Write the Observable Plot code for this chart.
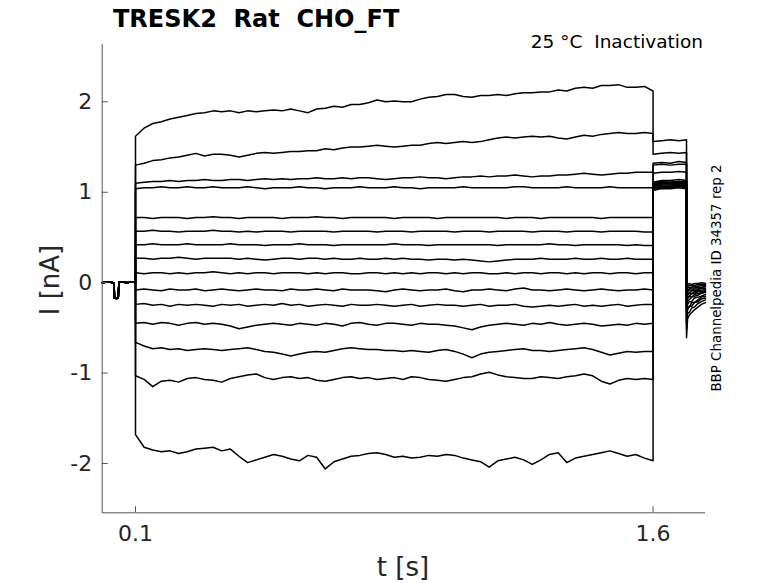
<!DOCTYPE html>
<html>
<head>
<meta charset="utf-8">
<script src="https://cdn.jsdelivr.net/npm/d3@7"></script>
<script src="https://cdn.jsdelivr.net/npm/@observablehq/plot@0.6"></script>
<style>
  html, body { margin: 0; padding: 0; background: #fff; }
  #chart { width: 778px; height: 583px; }
  text { white-space: pre; }
</style>
</head>
<body>
<div id="chart"></div>
<script>
// ---- axis ticks ----
const xTicks = [0.1, 1.6];
const yTicks = [-2, -1, 0, 1, 2];
const xDomain = [0.0035, 1.752];
const yDomain = [-2.545, 2.634];

// ---- holding segment (shared by every sweep) ----
const tPre = [0.0035, 0.02, 0.035, 0.038, 0.039, 0.045, 0.050, 0.052, 0.06, 0.075, 0.09, 0.1];
const iPre = [0.0, 0.01, 0.0, 0.0, -0.17, -0.175, -0.17, 0.01, 0.01, 0.0, 0.01, 0.0];

// ---- conditioning step (0.1 .. 1.6 s) ----
const tStep = [0.1,0.125,0.15,0.175,0.2,0.225,0.25,0.275,0.3,0.325,
  0.35,0.375,0.4,0.425,0.45,0.475,0.5,0.525,0.55,0.575,
  0.6,0.625,0.65,0.675,0.7,0.725,0.75,0.775,0.8,0.825,
  0.85,0.875,0.9,0.925,0.95,0.975,1.0,1.025,1.05,1.075,
  1.1,1.125,1.15,1.175,1.2,1.225,1.25,1.275,1.3,1.325,
  1.35,1.375,1.4,1.425,1.45,1.475,1.5,1.525,1.55,1.575,
  1.6];

const step1 = [1.62,1.71,1.76,1.78,1.81,1.83,1.85,1.87,1.88,1.90,
  1.89,1.90,1.88,1.90,1.89,1.90,1.91,1.90,1.92,1.90,
  1.88,1.92,1.93,1.95,1.94,1.97,1.97,1.99,2.02,2.00,
  2.01,2.00,2.00,2.03,2.05,2.06,2.08,2.08,2.06,2.05,
  2.07,2.07,2.08,2.07,2.09,2.10,2.10,2.11,2.11,2.13,
  2.12,2.15,2.16,2.15,2.18,2.18,2.19,2.16,2.16,2.17,
  2.12];
const step2 = [1.30,1.32,1.35,1.36,1.38,1.39,1.41,1.43,1.40,1.42,
  1.42,1.41,1.39,1.41,1.43,1.44,1.43,1.44,1.45,1.45,
  1.46,1.46,1.48,1.47,1.49,1.50,1.50,1.51,1.52,1.51,
  1.50,1.51,1.52,1.52,1.54,1.55,1.54,1.55,1.56,1.55,
  1.56,1.58,1.60,1.61,1.60,1.61,1.62,1.61,1.62,1.60,
  1.59,1.61,1.63,1.62,1.64,1.65,1.66,1.65,1.65,1.66,
  1.65];
const step3 = [1.10,1.11,1.12,1.12,1.13,1.12,1.13,1.13,1.14,1.13,
  1.13,1.14,1.14,1.13,1.14,1.15,1.14,1.15,1.14,1.15,
  1.15,1.16,1.15,1.15,1.16,1.15,1.16,1.16,1.15,1.14,
  1.15,1.16,1.16,1.17,1.16,1.16,1.15,1.16,1.17,1.17,
  1.18,1.17,1.18,1.18,1.19,1.18,1.17,1.18,1.18,1.19,
  1.19,1.20,1.21,1.20,1.19,1.20,1.21,1.21,1.22,1.22,
  1.22];
const step4 = [1.04,1.05,1.05,1.06,1.05,1.05,1.06,1.05,1.05,1.06,
  1.05,1.05,1.05,1.06,1.05,1.04,1.05,1.05,1.05,1.06,
  1.05,1.05,1.04,1.05,1.05,1.05,1.06,1.05,1.05,1.05,
  1.06,1.05,1.05,1.04,1.05,1.05,1.05,1.05,1.06,1.05,
  1.05,1.05,1.05,1.05,1.06,1.06,1.05,1.05,1.05,1.05,
  1.06,1.05,1.05,1.05,1.05,1.06,1.05,1.05,1.05,1.05,
  1.05];
const step5 = [0.72,0.72,0.71,0.72,0.72,0.72,0.71,0.72,0.72,0.73,
  0.72,0.72,0.71,0.72,0.72,0.72,0.72,0.71,0.72,0.72,
  0.72,0.73,0.72,0.72,0.71,0.72,0.72,0.72,0.72,0.72,
  0.71,0.72,0.72,0.72,0.72,0.71,0.72,0.72,0.72,0.72,
  0.72,0.72,0.72,0.71,0.72,0.72,0.72,0.71,0.72,0.72,
  0.72,0.72,0.72,0.72,0.71,0.72,0.72,0.72,0.72,0.72,
  0.72];
const step6 = [0.57,0.57,0.58,0.57,0.57,0.56,0.57,0.57,0.57,0.58,
  0.57,0.57,0.56,0.57,0.56,0.57,0.57,0.57,0.56,0.57,
  0.57,0.57,0.57,0.56,0.57,0.57,0.57,0.57,0.56,0.57,
  0.57,0.57,0.56,0.57,0.57,0.57,0.57,0.56,0.57,0.57,
  0.57,0.56,0.57,0.57,0.57,0.57,0.56,0.57,0.57,0.57,
  0.56,0.57,0.57,0.57,0.56,0.57,0.57,0.57,0.57,0.56,
  0.56];
const step7 = [0.42,0.42,0.43,0.42,0.42,0.42,0.43,0.42,0.42,0.42,
  0.42,0.43,0.42,0.42,0.42,0.41,0.42,0.42,0.42,0.43,
  0.42,0.42,0.42,0.41,0.42,0.42,0.42,0.42,0.42,0.42,
  0.43,0.42,0.42,0.42,0.41,0.42,0.42,0.42,0.42,0.42,
  0.42,0.42,0.41,0.42,0.42,0.42,0.42,0.42,0.43,0.42,
  0.42,0.41,0.42,0.42,0.42,0.42,0.42,0.41,0.42,0.41,
  0.41];
const step8 = [0.27,0.27,0.26,0.27,0.27,0.28,0.27,0.26,0.27,0.27,
  0.27,0.27,0.26,0.27,0.26,0.25,0.26,0.27,0.27,0.26,
  0.27,0.27,0.26,0.27,0.26,0.26,0.27,0.26,0.26,0.27,
  0.26,0.27,0.26,0.26,0.25,0.26,0.26,0.25,0.26,0.25,
  0.24,0.23,0.24,0.25,0.26,0.26,0.26,0.27,0.26,0.26,
  0.26,0.27,0.26,0.26,0.27,0.26,0.26,0.27,0.26,0.26,
  0.26];
const step9 = [0.11,0.10,0.11,0.11,0.10,0.11,0.10,0.11,0.11,0.12,
  0.11,0.10,0.11,0.10,0.11,0.11,0.10,0.11,0.11,0.11,
  0.10,0.11,0.10,0.11,0.11,0.10,0.10,0.11,0.11,0.10,
  0.11,0.10,0.11,0.10,0.11,0.11,0.10,0.11,0.10,0.11,
  0.11,0.10,0.10,0.11,0.10,0.11,0.11,0.10,0.11,0.11,
  0.10,0.11,0.10,0.11,0.11,0.10,0.11,0.11,0.10,0.11,
  0.11];
const step10 = [-0.08,-0.07,-0.08,-0.09,-0.07,-0.08,-0.08,-0.07,-0.09,-0.08,
  -0.07,-0.08,-0.09,-0.08,-0.07,-0.08,-0.08,-0.09,-0.07,-0.08,
  -0.08,-0.07,-0.08,-0.09,-0.07,-0.08,-0.08,-0.08,-0.09,-0.10,
  -0.08,-0.07,-0.08,-0.09,-0.08,-0.08,-0.07,-0.09,-0.10,-0.08,
  -0.08,-0.07,-0.08,-0.09,-0.07,-0.06,-0.08,-0.08,-0.09,-0.08,
  -0.07,-0.08,-0.09,-0.08,-0.07,-0.08,-0.09,-0.08,-0.08,-0.07,
  -0.08];
const step11 = [-0.24,-0.23,-0.25,-0.24,-0.26,-0.24,-0.25,-0.24,-0.25,-0.26,
  -0.24,-0.25,-0.24,-0.26,-0.25,-0.24,-0.25,-0.23,-0.25,-0.24,
  -0.26,-0.25,-0.24,-0.25,-0.26,-0.24,-0.25,-0.25,-0.24,-0.25,
  -0.26,-0.25,-0.24,-0.26,-0.25,-0.24,-0.25,-0.25,-0.26,-0.25,
  -0.24,-0.26,-0.25,-0.25,-0.24,-0.26,-0.27,-0.26,-0.25,-0.26,
  -0.25,-0.24,-0.26,-0.25,-0.26,-0.25,-0.24,-0.26,-0.25,-0.24,
  -0.24];
const step12 = [-0.45,-0.44,-0.46,-0.44,-0.45,-0.47,-0.45,-0.44,-0.46,-0.45,
  -0.46,-0.48,-0.51,-0.49,-0.47,-0.46,-0.45,-0.46,-0.47,-0.45,
  -0.46,-0.47,-0.45,-0.46,-0.48,-0.45,-0.44,-0.46,-0.47,-0.45,
  -0.45,-0.46,-0.47,-0.45,-0.46,-0.46,-0.47,-0.48,-0.50,-0.52,
  -0.49,-0.47,-0.46,-0.45,-0.46,-0.47,-0.45,-0.46,-0.44,-0.46,
  -0.47,-0.46,-0.45,-0.46,-0.48,-0.47,-0.46,-0.47,-0.45,-0.46,
  -0.45];
const step13 = [-0.66,-0.70,-0.73,-0.72,-0.74,-0.73,-0.75,-0.74,-0.73,-0.74,
  -0.75,-0.74,-0.73,-0.72,-0.74,-0.76,-0.77,-0.79,-0.81,-0.79,
  -0.77,-0.76,-0.77,-0.75,-0.73,-0.72,-0.73,-0.74,-0.74,-0.75,
  -0.75,-0.76,-0.75,-0.76,-0.77,-0.75,-0.74,-0.76,-0.79,-0.83,
  -0.79,-0.77,-0.76,-0.75,-0.74,-0.73,-0.75,-0.75,-0.76,-0.75,
  -0.74,-0.73,-0.72,-0.74,-0.77,-0.80,-0.78,-0.76,-0.77,-0.76,
  -0.76];
const step14 = [-1.03,-1.07,-1.15,-1.09,-1.08,-1.10,-1.06,-1.05,-1.07,-1.08,
  -1.10,-1.06,-1.04,-1.02,-1.01,-1.05,-1.07,-1.05,-1.04,-1.06,
  -1.05,-1.08,-1.09,-1.07,-1.05,-1.04,-1.06,-1.05,-1.07,-1.06,
  -1.05,-1.07,-1.04,-1.05,-1.07,-1.08,-1.09,-1.07,-1.05,-1.04,
  -1.01,-0.99,-1.02,-1.04,-1.05,-1.06,-1.06,-1.04,-1.05,-1.06,
  -1.04,-1.03,-1.01,-1.03,-1.09,-1.12,-1.08,-1.06,-1.07,-1.06,
  -1.07];
const step15 = [-1.68,-1.82,-1.85,-1.87,-1.86,-1.89,-1.87,-1.84,-1.83,-1.82,
  -1.86,-1.84,-1.92,-1.99,-1.96,-1.93,-1.90,-1.92,-1.95,-1.97,
  -1.91,-1.93,-2.06,-1.98,-1.95,-1.92,-1.91,-1.89,-1.88,-1.90,
  -1.93,-1.92,-1.94,-1.93,-1.91,-1.92,-1.90,-1.91,-1.94,-1.96,
  -1.98,-2.04,-1.97,-1.95,-1.93,-1.96,-2.01,-1.96,-1.90,-1.88,
  -1.99,-1.94,-1.92,-1.90,-1.88,-1.86,-1.89,-1.92,-1.90,-1.94,
  -1.97];

// ---- test step (1.6 .. 1.697 s) ----
const tTest = [1.6, 1.625, 1.65, 1.675, 1.697];
const test1 = [1.56, 1.57, 1.58, 1.57, 1.58];
const test2 = [1.42, 1.43, 1.44, 1.43, 1.44];
const test3 = [1.32, 1.33, 1.32, 1.34, 1.33];
const test4 = [1.30, 1.31, 1.30, 1.31, 1.31];
const test5 = [1.21, 1.22, 1.22, 1.23, 1.22];
const test6 = [1.11, 1.13, 1.13, 1.14, 1.13];
const test7 = [1.10, 1.12, 1.11, 1.12, 1.12];
const test8 = [1.09, 1.11, 1.11, 1.12, 1.11];
const test9 = [1.08, 1.10, 1.10, 1.11, 1.10];
const test10 = [1.07, 1.09, 1.09, 1.10, 1.09];
const test11 = [1.06, 1.08, 1.08, 1.09, 1.08];
const test12 = [1.05, 1.07, 1.07, 1.08, 1.07];
const test13 = [1.04, 1.06, 1.06, 1.07, 1.06];
const test14 = [1.03, 1.05, 1.05, 1.06, 1.05];
const test15 = [1.02, 1.04, 1.04, 1.05, 1.04];

// ---- tail after return to holding (1.697 .. 1.752 s) ----
const tTail = [1.697, 1.700, 1.705, 1.712, 1.72, 1.73, 1.74, 1.752];
const tail1 = [-0.61, -0.40, -0.36, -0.33, -0.30, -0.27, -0.24, -0.22];
const tail2 = [-0.52, -0.34, -0.33, -0.28, -0.27, -0.23, -0.21, -0.19];
const tail3 = [-0.46, -0.30, -0.26, -0.26, -0.22, -0.21, -0.18, -0.17];
const tail4 = [-0.43, -0.28, -0.27, -0.22, -0.22, -0.19, -0.16, -0.15];
const tail5 = [-0.37, -0.24, -0.21, -0.21, -0.17, -0.16, -0.15, -0.13];
const tail6 = [-0.31, -0.20, -0.19, -0.16, -0.15, -0.14, -0.11, -0.11];
const tail7 = [-0.27, -0.18, -0.15, -0.16, -0.13, -0.12, -0.12, -0.10];
const tail8 = [-0.24, -0.16, -0.15, -0.12, -0.12, -0.10, -0.10, -0.09];
const tail9 = [-0.21, -0.14, -0.12, -0.12, -0.10, -0.09, -0.08, -0.08];
const tail10 = [-0.18, -0.12, -0.11, -0.09, -0.09, -0.08, -0.06, -0.07];
const tail11 = [-0.15, -0.10, -0.08, -0.08, -0.07, -0.07, -0.06, -0.06];
const tail12 = [-0.12, -0.08, -0.07, -0.06, -0.06, -0.05, -0.05, -0.04];
const tail13 = [-0.09, -0.06, -0.05, -0.05, -0.04, -0.04, -0.03, -0.03];
const tail14 = [-0.06, -0.04, -0.03, -0.03, -0.03, -0.02, -0.02, -0.02];
const tail15 = [-0.03, -0.02, -0.01, -0.02, -0.01, -0.01, 0.00, -0.01];

const stepSweeps = [step1, step2, step3, step4, step5, step6, step7, step8, step9, step10, step11, step12, step13, step14, step15];
const testSweeps = [test1, test2, test3, test4, test5, test6, test7, test8, test9, test10, test11, test12, test13, test14, test15];
const tailSweeps = [tail1, tail2, tail3, tail4, tail5, tail6, tail7, tail8, tail9, tail10, tail11, tail12, tail13, tail14, tail15];

// build a long table: one row per sample
const rows = [];
stepSweeps.forEach((stepVals, k) => {
  tPre.forEach((t, i) => rows.push({sweep: k, t, I: iPre[i]}));
  tStep.forEach((t, i) => rows.push({sweep: k, t, I: stepVals[i]}));
  tTest.forEach((t, i) => rows.push({sweep: k, t, I: testSweeps[k][i]}));
  tTail.forEach((t, i) => rows.push({sweep: k, t, I: tailSweeps[k][i]}));
});

const axisColor = "#262626";
const fmt = d => String(d);

const chart = Plot.plot({
  width: 778,
  height: 583,
  marginLeft: 101.7,
  marginRight: 73,
  marginTop: 44,
  marginBottom: 70.7,
  x: {domain: xDomain},
  y: {domain: yDomain},
  style: {fontFamily: "DejaVu Sans", color: axisColor, background: "white", overflow: "visible"},
  marks: [
    Plot.line(rows, {x: "t", y: "I", z: "sweep", stroke: "black", strokeWidth: 1.5, curve: "linear"}),
    Plot.ruleX([xDomain[0]], {stroke: "#555", strokeWidth: 1}),
    Plot.ruleY([yDomain[0]], {stroke: "#555", strokeWidth: 1}),
    Plot.axisX({ticks: xTicks, tickFormat: fmt, tickSize: -6, tickPadding: 19, fontSize: 22, label: null, stroke: "#555"}),
    Plot.axisY({ticks: yTicks, tickFormat: fmt, tickSize: -6, tickPadding: 16, fontSize: 22, label: null, stroke: "#555"})
  ]
});

document.getElementById("chart").appendChild(chart);

const svg = d3.select(chart);
svg.append("text")
  .attr("x", 113).attr("y", 27)
  .attr("text-anchor", "start")
  .attr("font-family", "DejaVu Sans").attr("font-weight", "bold").attr("font-size", 24)
  .attr("fill", "#000")
  .text("TRESK2  Rat  CHO_FT");
svg.append("text")
  .attr("x", 703).attr("y", 48)
  .attr("text-anchor", "end")
  .attr("font-family", "DejaVu Sans").attr("font-size", 18.5)
  .attr("fill", "#000")
  .text("25 °C  Inactivation");
svg.append("text")
  .attr("transform", "translate(721,278) rotate(-90)")
  .attr("text-anchor", "middle")
  .attr("font-family", "DejaVu Sans").attr("font-size", 13.4)
  .attr("fill", "#000")
  .text("BBP Channelpedia ID 34357 rep 2");
svg.append("text")
  .attr("transform", "translate(59,280) rotate(-90)")
  .attr("text-anchor", "middle")
  .attr("font-family", "DejaVu Sans").attr("font-size", 26)
  .attr("fill", axisColor)
  .text("I [nA]");
svg.append("text")
  .attr("x", 403).attr("y", 576)
  .attr("text-anchor", "middle")
  .attr("font-family", "DejaVu Sans").attr("font-size", 26)
  .attr("fill", axisColor)
  .text("t [s]");
</script>
</body>
</html>
